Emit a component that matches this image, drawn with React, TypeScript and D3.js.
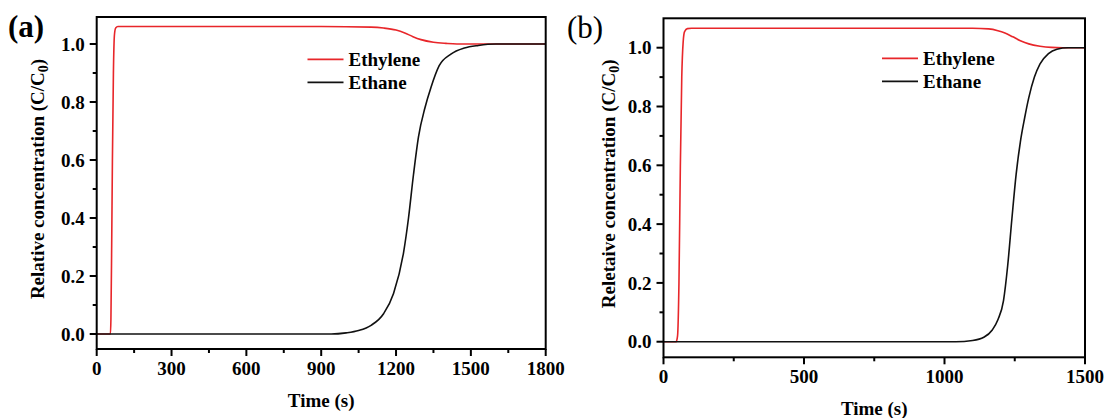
import React from "react";
import * as d3 from "d3";

// ---------- Data ----------
// Panel (a)
const timeA_ethylene = [0, 55, 57, 60, 63, 67, 71, 76, 85, 300, 600, 900, 1100, 1150, 1200, 1235, 1268, 1300, 1350, 1400, 1444, 1500, 1800];
const valA_ethylene = [0, 0, 0.05, 0.3, 0.6, 0.9, 1.03, 1.055, 1.06, 1.06, 1.06, 1.06, 1.058, 1.055, 1.048, 1.038, 1.025, 1.015, 1.006, 1.002, 1.0, 1.0, 1.0];
const timeA_ethane = [0, 940, 1000, 1050, 1100, 1150, 1190, 1230, 1250, 1270, 1290, 1316, 1340, 1373, 1420, 1474, 1530, 1600, 1800];
const valA_ethane = [0, 0, 0.004, 0.012, 0.03, 0.07, 0.14, 0.28, 0.4, 0.55, 0.68, 0.78, 0.85, 0.925, 0.965, 0.986, 0.995, 1.0, 1.0];

// Panel (b)
const timeB_ethylene = [0, 45, 50, 55, 60, 65, 70, 75, 85, 100, 1100, 1157, 1190, 1215, 1243, 1270, 1300, 1340, 1380, 1420, 1500];
const valB_ethylene = [0, 0, 0.02, 0.2, 0.6, 0.9, 1.02, 1.055, 1.065, 1.066, 1.066, 1.064, 1.058, 1.05, 1.037, 1.024, 1.013, 1.005, 1.001, 1.0, 1.0];
const timeB_ethane = [0, 1040, 1100, 1140, 1170, 1190, 1210, 1225, 1240, 1255, 1270, 1285, 1300, 1320, 1340, 1370, 1400, 1440, 1500];
const valB_ethane = [0, 0, 0.004, 0.015, 0.04, 0.075, 0.14, 0.26, 0.42, 0.57, 0.68, 0.76, 0.83, 0.9, 0.945, 0.98, 0.995, 1.0, 1.0];

const xTicksA = [0, 300, 600, 900, 1200, 1500, 1800];
const xMinorA = [150, 450, 750, 1050, 1350, 1650];
const xTicksB = [0, 500, 1000, 1500];
const xMinorB = [250, 750, 1250];
const yTicks = [0, 0.2, 0.4, 0.6, 0.8, 1.0];
const yMinor = [0.1, 0.3, 0.5, 0.7, 0.9];

const seriesNames = ["Ethylene", "Ethane"];
const seriesColors = ["#e8262a", "#111111"];

const FONT = "'Liberation Serif', 'Times New Roman', serif";
const FS = 19;

type PanelProps = {
  label: string;
  labelBold: boolean;
  labelSize: number;
  labelX: number;
  labelY: number;
  left: number;
  right: number;
  top: number;
  bottom: number;
  xDomain: [number, number];
  yDomain: [number, number];
  xTicks: number[];
  xMinor: number[];
  yTitle: string;
  yTitleX: number;
  legendX: number;
  legendY: number;
  series: { t: number[]; v: number[] }[];
};

function Panel(p: PanelProps) {
  const x = d3.scaleLinear().domain(p.xDomain).range([p.left, p.right]);
  const y = d3.scaleLinear().domain(p.yDomain).range([p.bottom, p.top]);
  const line = d3
    .line<[number, number]>()
    .x((d) => x(d[0]))
    .y((d) => y(d[1]))
    .curve(d3.curveMonotoneX);
  const major = 7;
  const minor = 4;
  const fmtY = d3.format(".1f");
  const midY = (p.top + p.bottom) / 2;
  return (
    <g>
      <text x={p.labelX} y={p.labelY} fontFamily={FONT} fontSize={p.labelSize} fontWeight={p.labelBold ? "bold" : "normal"}>
        {p.label}
      </text>
      {p.series.map((s, i) => (
        <path
          key={i}
          d={line(s.t.map((t, j) => [t, s.v[j]] as [number, number])) || ""}
          fill="none"
          stroke={seriesColors[i]}
          strokeWidth={1.6}
        />
      ))}
      <rect x={p.left} y={p.top} width={p.right - p.left} height={p.bottom - p.top} fill="none" stroke="#000" strokeWidth={2} />
      {p.xTicks.map((t) => (
        <g key={"xt" + t}>
          <line x1={x(t)} x2={x(t)} y1={p.bottom} y2={p.bottom + major} stroke="#000" strokeWidth={2} />
          <text x={x(t)} y={p.bottom + 26} textAnchor="middle" fontFamily={FONT} fontSize={FS} fontWeight="bold">
            {t}
          </text>
        </g>
      ))}
      {p.xMinor.map((t) => (
        <line key={"xm" + t} x1={x(t)} x2={x(t)} y1={p.bottom} y2={p.bottom + minor} stroke="#000" strokeWidth={2} />
      ))}
      {yTicks.map((t) => (
        <g key={"yt" + t}>
          <line x1={p.left - major} x2={p.left} y1={y(t)} y2={y(t)} stroke="#000" strokeWidth={2} />
          <text x={p.left - 12} y={y(t)} dy="0.35em" textAnchor="end" fontFamily={FONT} fontSize={FS} fontWeight="bold">
            {fmtY(t)}
          </text>
        </g>
      ))}
      {yMinor.map((t) => (
        <line key={"ym" + t} x1={p.left - minor} x2={p.left} y1={y(t)} y2={y(t)} stroke="#000" strokeWidth={2} />
      ))}
      <text
        x={(p.left + p.right) / 2}
        y={p.bottom + 58}
        textAnchor="middle"
        fontFamily={FONT}
        fontSize={FS}
        fontWeight="bold"
      >
        Time (s)
      </text>
      <text
        transform={`translate(${p.yTitleX},${midY - 4}) rotate(-90)`}
        textAnchor="middle"
        fontFamily={FONT}
        fontSize={FS}
        fontWeight="bold"
      >
        {p.yTitle} (C/C<tspan dy={4} fontSize={14}>0</tspan>
        <tspan dy={-4}>)</tspan>
      </text>
      {seriesNames.map((n, i) => (
        <g key={n}>
          <line
            x1={p.legendX}
            x2={p.legendX + 36}
            y1={p.legendY + i * 23}
            y2={p.legendY + i * 23}
            stroke={seriesColors[i]}
            strokeWidth={1.8}
          />
          <text x={p.legendX + 41} y={p.legendY + i * 23} dy="0.35em" fontFamily={FONT} fontSize={FS} fontWeight="bold">
            {n}
          </text>
        </g>
      ))}
    </g>
  );
}

export default function App() {
  return (
    <div style={{ position: "absolute", left: 0, top: 0 }}>
      <svg width={1104} height={418} style={{ display: "block", background: "#fff" }}>
        <Panel
          label="(a)"
          labelBold={true}
          labelSize={31}
          labelX={8}
          labelY={37}
          left={96.7}
          right={545.7}
          top={17}
          bottom={349}
          xDomain={[0, 1800]}
          yDomain={[-0.0517, 1.093]}
          xTicks={xTicksA}
          xMinor={xMinorA}
          yTitle="Relative concentration"
          yTitleX={44}
          legendX={307.5}
          legendY={59.3}
          series={[
            { t: timeA_ethylene, v: valA_ethylene },
            { t: timeA_ethane, v: valA_ethane },
          ]}
        />
        <Panel
          label="(b)"
          labelBold={false}
          labelSize={31}
          labelX={567}
          labelY={38}
          left={663.5}
          right={1085}
          top={18.3}
          bottom={357.3}
          xDomain={[0, 1500]}
          yDomain={[-0.053, 1.1]}
          xTicks={xTicksB}
          xMinor={xMinorB}
          yTitle="Reletaive concentration"
          yTitleX={615}
          legendX={882}
          legendY={58.3}
          series={[
            { t: timeB_ethylene, v: valB_ethylene },
            { t: timeB_ethane, v: valB_ethane },
          ]}
        />
      </svg>
    </div>
  );
}
